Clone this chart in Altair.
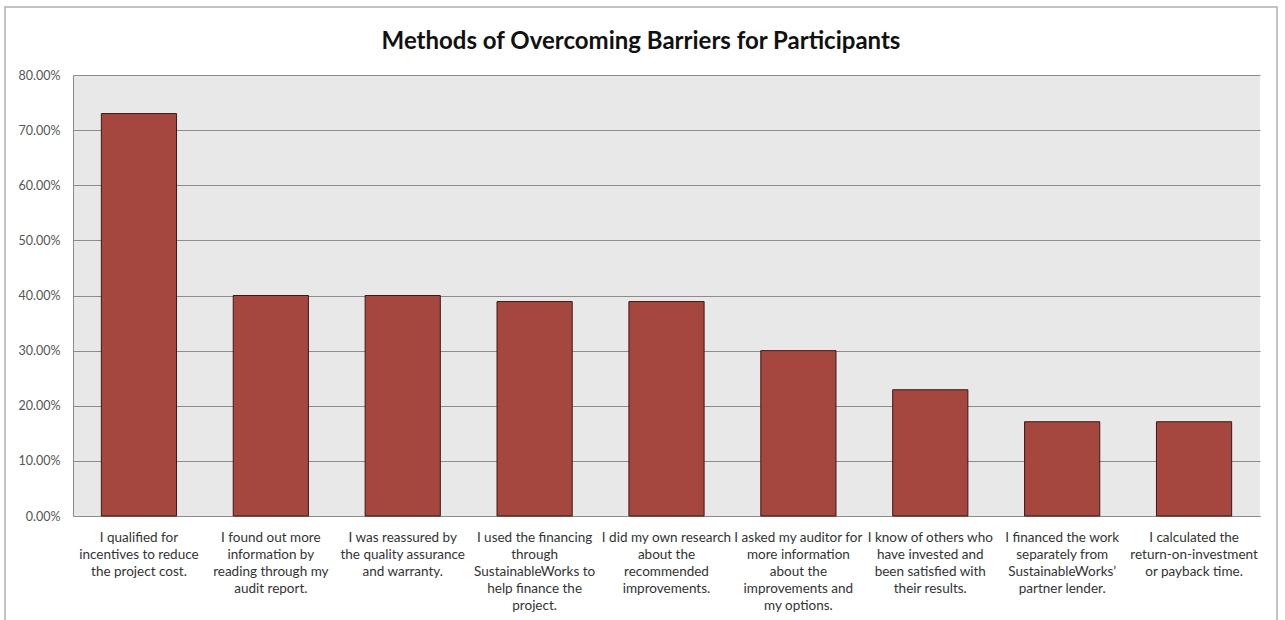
import altair as alt
import pandas as pd

# Survey responses: how participants overcame barriers (share of respondents, %)
methods = [
    "I qualified for\nincentives to reduce\nthe project cost.",
    "I found out more\ninformation by\nreading through my\naudit report.",
    "I was reassured by\nthe quality assurance\nand warranty.",
    "I used the financing\nthrough\nSustainableWorks to\nhelp finance the\nproject.",
    "I did my own research\nabout the\nrecommended\nimprovements.",
    "I asked my auditor for\nmore information\nabout the\nimprovements and\nmy options.",
    "I know of others who\nhave invested and\nbeen satisfied with\ntheir results.",
    "I financed the work\nseparately from\nSustainableWorks’\npartner lender.",
    "I calculated the\nreturn-on-investment\nor payback time.",
]
shares = [73.0, 40.0, 40.0, 38.9, 38.9, 30.0, 22.9, 17.1, 17.1]
y_ticks = [0, 10, 20, 30, 40, 50, 60, 70, 80]
title_text = ["Methods of Overcoming Barriers for Participants"]

df = pd.DataFrame({"method": methods, "share": shares})

FONT = "Lato"

bars = alt.Chart(df).mark_bar(
    color="#A5473F", stroke="#3B1714", strokeWidth=1
).encode(
    x=alt.X(
        "method:N",
        sort=None,
        title=None,
        scale=alt.Scale(paddingInner=0.43, paddingOuter=0.215),
        axis=alt.Axis(
            labelAngle=0,
            labelExpr="split(datum.label, '\\n')",
            labelFont=FONT,
            labelFontSize=13.5,
            labelColor="#333333",
            labelLineHeight=17,
            labelBaseline="top",
            labelPadding=14,
            labelLimit=0,
            ticks=False,
            domainColor="#8C8C8C",
            domainWidth=1,
            grid=False,
        ),
    ),
    y=alt.Y(
        "share:Q",
        title=None,
        scale=alt.Scale(domain=[0, 80], nice=False),
        axis=alt.Axis(
            values=y_ticks,
            labelExpr="format(datum.value, '.2f') + '%'",
            labelFont=FONT,
            labelFontSize=12.5,
            labelColor="#555555",
            labelPadding=13,
            ticks=False,
            domainColor="#8C8C8C",
            domainWidth=1,
            grid=True,
            gridColor="#8C8C8C",
            gridWidth=1,
        ),
    ),
)

# Chart heading, centred on the outer frame
heading = alt.Chart(pd.DataFrame({"t": title_text})).mark_text(
    font=FONT,
    fontSize=24,
    fontWeight="bold",
    color="#111111",
    align="center",
    baseline="alphabetic",
).encode(text="t:N", x=alt.value(568), y=alt.value(-26))

# Outer chart frame
frame = alt.Chart(pd.DataFrame({"k": [0]})).mark_rect(
    fill=None, stroke="#B0B0B0", strokeWidth=1.5, clip=False
).encode(
    x=alt.value(-68), x2=alt.value(1204), y=alt.value(-68), y2=alt.value(620)
)

chart = alt.layer(frame, heading, bars).properties(
    width=1187,
    height=441,
    padding={"left": 73, "top": 75, "right": 25, "bottom": 104},
    autosize=alt.AutoSizeParams(type="none"),
    background="white",
).configure_view(
    fill="#E8E8E8", stroke=None
)

chart.save("out.html", embed_options={"renderer": "svg", "actions": False})
